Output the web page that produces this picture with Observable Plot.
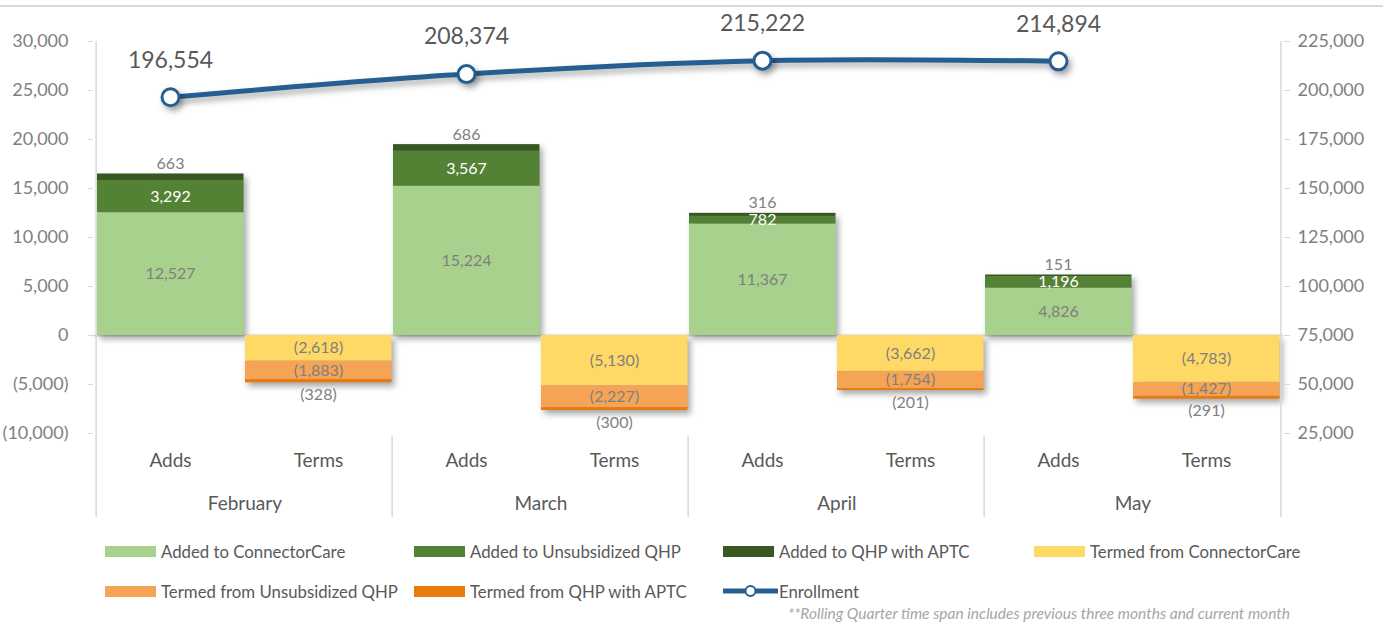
<!DOCTYPE html>
<html><head><meta charset="utf-8">
<script src="https://cdn.jsdelivr.net/npm/d3@7"></script>
<script src="https://cdn.jsdelivr.net/npm/@observablehq/plot@0.6"></script>
<style>
body{margin:0;background:#fff;font-family:Lato,"Open Sans",sans-serif;}
#wrap{position:relative;width:1383px;height:623px;overflow:hidden;background:#fff;}
#topline{position:absolute;left:0;top:5px;width:1383px;height:2px;background:#d9d9d9;}
#chart{position:absolute;left:0;top:0;}
.item{position:absolute;display:flex;align-items:center;font-size:16.8px;color:#595959;white-space:nowrap;}
.sw{width:51px;height:11px;margin-right:5px;}
#note{position:absolute;right:93px;top:604px;font-size:15.5px;font-style:italic;color:#a6a6a6;}
</style></head><body>
<div id="wrap"><div id="chart"></div><div id="topline"></div><div id="legend"></div>
<div id="note">**Rolling Quarter time span includes previous three months and current month</div></div>
<script>
const months = ["February","March","April","May"];
const types = ["Adds","Terms"];
const seriesNames = ["Added to ConnectorCare","Added to Unsubsidized QHP","Added to QHP with APTC","Termed from ConnectorCare","Termed from Unsubsidized QHP","Termed from QHP with APTC"];
const seriesColors = ["#a9d18e","#548235","#385723","#ffd966","#f4a454","#e97b0e"];
const addedCC = [12527,15224,11367,4826];
const addedUnsub = [3292,3567,782,1196];
const addedAPTC = [663,686,316,151];
const termedCC = [2618,5130,3662,4783];
const termedUnsub = [1883,2227,1754,1427];
const termedAPTC = [328,300,201,291];
const enrollment = [196554,208374,215222,214894];
const leftTicks = [-10000,-5000,0,5000,10000,15000,20000,25000,30000];
const lineName = "Enrollment";
const lineColor = "#255e91";

const seriesValues = [addedCC, addedUnsub, addedAPTC, termedCC, termedUnsub, termedAPTC];
const rows = [];
months.forEach((m, i) => {
  seriesNames.forEach((s, j) => {
    const isAdd = j < 3;
    rows.push({key: m + "|" + (isAdd ? "Adds" : "Terms"), month: m, series: s, value: isAdd ? seriesValues[j][i] : -seriesValues[j][i], raw: seriesValues[j][i]});
  });
});
const enrollRows = months.map((m, i) => ({key: m + "|Adds", month: m, enroll: enrollment[i], y: (enrollment[i] - 75000) / 5}));
const keys = months.flatMap(m => types.map(t => m + "|" + t));

const W = 1383, H = 530, mL = 93, mR = 100, mT = 41, plotBottom = 433;
const mB = H - plotBottom;
const bw = (W - mL - mR) / keys.length;
const yMin = -10000, yMax = 30000;
const upp = (yMax - yMin) / (plotBottom - mT);
const yAtPx = px => yMin - (px - plotBottom) * upp;

const fmt = d3.format(",");
const fmtLeft = d => d < 0 ? "(" + fmt(-d) + ")" : fmt(d);
const fmtLab = d => d.value < 0 ? "(" + fmt(d.raw) + ")" : fmt(d.raw);
const gray = "#7f7f7f";
const dark = "#595959";

const stackOpts = {x: "key", y: "value", z: "series", order: seriesNames};
const chart = Plot.plot({
  width: W, height: H,
  marginLeft: mL, marginRight: mR, marginTop: mT, marginBottom: mB,
  style: {fontFamily: "Lato, 'Open Sans', sans-serif", fontSize: "18px", background: "transparent", overflow: "visible"},
  x: {type: "band", domain: keys, padding: 0, label: null, axis: null},
  y: {domain: [yMin, yMax], label: null, axis: null},
  color: {domain: seriesNames, range: seriesColors},
  marks: [
    Plot.ruleY([0], {stroke: "#d9d9d9", strokeWidth: 2}),
    Plot.barY(rows, Plot.stackY({...stackOpts, fill: "series", insetLeft: 1, insetRight: 0.5})),
    Plot.text(rows, Plot.stackY({...stackOpts,
      text: d => (d.series === seriesNames[0] || d.series === seriesNames[3] || d.series === seriesNames[4]) ? fmtLab(d) : "",
      fill: gray, fontSize: 16})),
    Plot.text(rows, Plot.stackY({...stackOpts,
      text: d => d.series === seriesNames[1] ? fmtLab(d) : "",
      fill: "white", fontSize: 16})),
    Plot.text(rows, Plot.stackY2({...stackOpts,
      text: d => d.series === seriesNames[2] ? fmtLab(d) : "",
      fill: gray, fontSize: 16, dy: -10})),
    Plot.text(rows, Plot.stackY2({...stackOpts,
      text: d => d.series === seriesNames[5] ? fmtLab(d) : "",
      fill: gray, fontSize: 16, dy: 12})),
    // axes
    Plot.axisY({ticks: leftTicks, tickFormat: fmtLeft, tickSize: 5, tickPadding: 20, fontSize: 18, stroke: "#d9d9d9", fill: gray, label: null}),
    Plot.axisY({anchor: "right", ticks: leftTicks, tickFormat: d => fmt(75000 + 5 * d), tickSize: 6, tickPadding: 8, fontSize: 18, stroke: "#d9d9d9", fill: gray, label: null}),
    Plot.axisX({tickFormat: k => k.split("|")[1], tickSize: 0, tickPadding: 20, fontSize: 19, fill: dark, label: null}),
    Plot.text(months, {x: m => m + "|Adds", y: yAtPx(503), dx: bw / 2, text: m => m, fontSize: 19, fill: dark}),
    // frame lines
    Plot.ruleX([keys[0]], {dx: -bw / 2, y1: yMax, y2: yAtPx(517), stroke: "#d9d9d9", strokeWidth: 1.5}),
    Plot.ruleX([keys[keys.length - 1]], {dx: bw / 2, y1: yMax, y2: yAtPx(517), stroke: "#d9d9d9", strokeWidth: 1.5}),
    Plot.ruleX(months.slice(1).map(m => m + "|Adds"), {dx: -bw / 2, y1: yAtPx(436), y2: yAtPx(517), stroke: "#d9d9d9", strokeWidth: 1.5}),
    // enrollment line
    Plot.line(enrollRows, {x: "key", y: "y", curve: "catmull-rom", stroke: lineColor, strokeWidth: 5}),
    Plot.dot(enrollRows, {x: "key", y: "y", r: 8.5, fill: "white", stroke: lineColor, strokeWidth: 3}),
    Plot.text(enrollRows, {x: "key", y: "y", text: d => fmt(d.enroll), dy: -37, fontSize: 23, fill: dark})
  ]
});
d3.select(chart).selectAll('g[aria-label="bar"], g[aria-label="line"], g[aria-label="dot"]').style("filter", "drop-shadow(3px 4px 3px rgba(0,0,0,0.35))");
document.getElementById("chart").appendChild(chart);

// legend
const legend = document.getElementById("legend");
const legendItems = [...seriesNames.map((s, i) => ({name: s, color: seriesColors[i], kind: "bar"})), {name: lineName, color: lineColor, kind: "line"}];
const colX = [105, 414, 723, 1034];
const rowY = [551, 591];
legendItems.forEach((it, i) => {
  const slot = i < 4 ? i : i - 4;
  const r = i < 4 ? 0 : 1;
  const el = document.createElement("div");
  el.className = "item";
  el.style.left = colX[slot] + "px";
  el.style.top = (rowY[r] - 11) + "px";
  el.style.height = "22px";
  if (it.kind === "bar") {
    el.innerHTML = `<div class="sw" style="background:${it.color}"></div><span>${it.name}</span>`;
  } else {
    el.innerHTML = `<svg width="55" height="16" style="margin-right:1px"><line x1="1" y1="8" x2="54" y2="8" stroke="${it.color}" stroke-width="5" stroke-linecap="round"/><circle cx="27.5" cy="8" r="5" fill="white" stroke="${it.color}" stroke-width="2"/></svg><span>${it.name}</span>`;
  }
  legend.appendChild(el);
});
</script>
</body></html>
